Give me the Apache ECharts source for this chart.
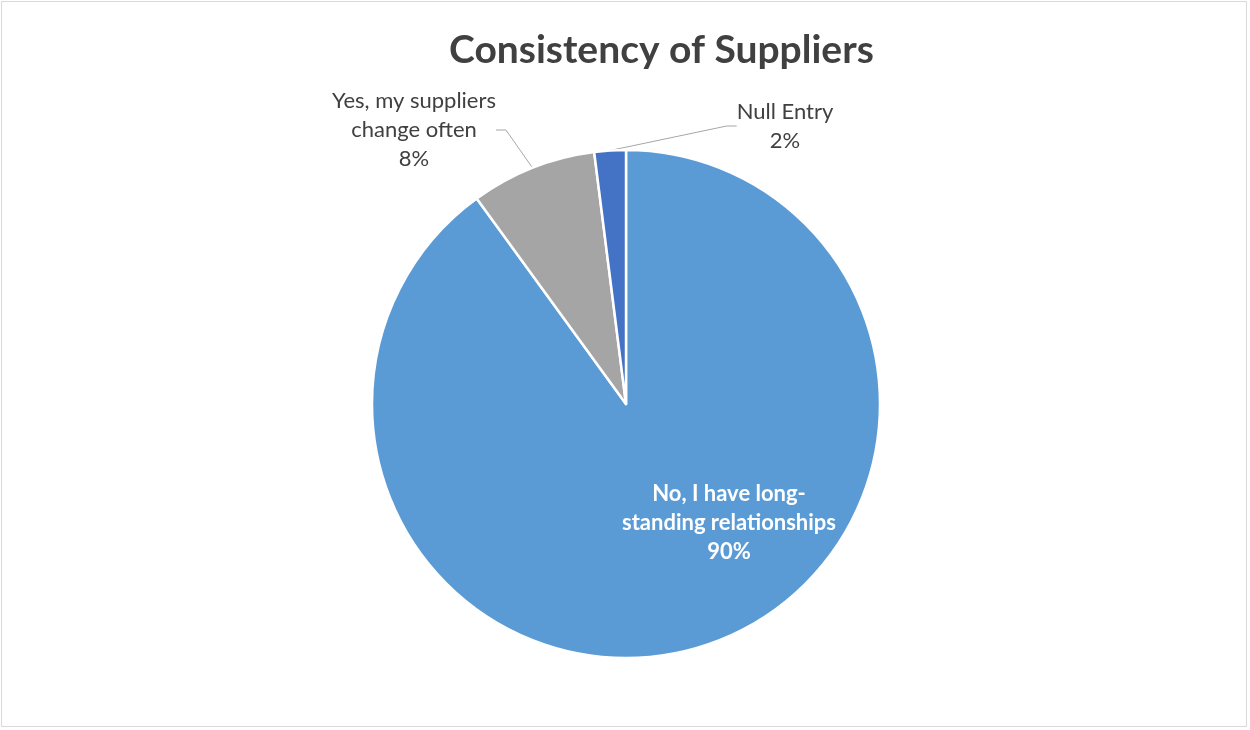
<!DOCTYPE html>
<html>
<head>
<meta charset="utf-8">
<script src="https://cdn.jsdelivr.net/npm/echarts@6/dist/echarts.min.js"></script>
<style>
html,body{margin:0;padding:0;background:#fff;}
#frame{position:absolute;left:1px;top:1px;width:1246px;height:726px;border:1px solid #D9D9D9;box-sizing:border-box;}
#chart{position:absolute;left:0;top:0;width:1250px;height:730px;}
</style>
</head>
<body>
<div id="frame"></div>
<div id="chart"></div>
<script>
const categories = ['No, I have long-standing relationships', 'Yes, my suppliers change often', 'Null Entry'];
const labelTexts = ['No, I have long-\nstanding relationships', 'Yes, my suppliers\nchange often', 'Null Entry'];
const values = [90, 8, 2];
const colors = ['#5B9BD5', '#A5A5A5', '#4472C4'];

const FONT = 'Lato';
const labelSpots = [
  {x: 729, y: 523},
  {x: 414, y: 130},
  {x: 785, y: 126}
];

const chart = echarts.init(document.getElementById('chart'));
chart.setOption({
  animation: false,
  title: {
    text: 'Consistency of Suppliers',
    left: 444,
    top: 26,
    textStyle: {fontFamily: FONT, fontWeight: 'bold', fontSize: 39, color: '#404040'}
  },
  series: [{
    type: 'pie',
    center: [626, 404],
    radius: 254,
    startAngle: 90,
    clockwise: true,
    avoidLabelOverlap: false,
    itemStyle: {borderColor: '#fff', borderWidth: 2.5},
    label: {
      show: true,
      fontFamily: FONT,
      fontSize: 22,
      lineHeight: 29,
      color: '#404040',
      align: 'center',
      formatter: function (p) { return labelTexts[p.dataIndex] + '\n' + p.value + '%'; }
    },
    labelLine: {show: true, length: 25, length2: 10, lineStyle: {color: '#A6A6A6', width: 1}},
    labelLayout: function (params) {
      const s = labelSpots[params.dataIndex];
      return {x: s.x, y: s.y, align: 'center', verticalAlign: 'middle'};
    },
    data: categories.map(function (c, i) {
      const item = {name: c, value: values[i], itemStyle: {color: colors[i]}};
      if (i === 0) {
        item.label = {position: 'inside', color: '#FFFFFF', fontWeight: 'bold'};
        item.labelLine = {show: false};
      }
      return item;
    })
  }]
});
</script>
</body>
</html>
